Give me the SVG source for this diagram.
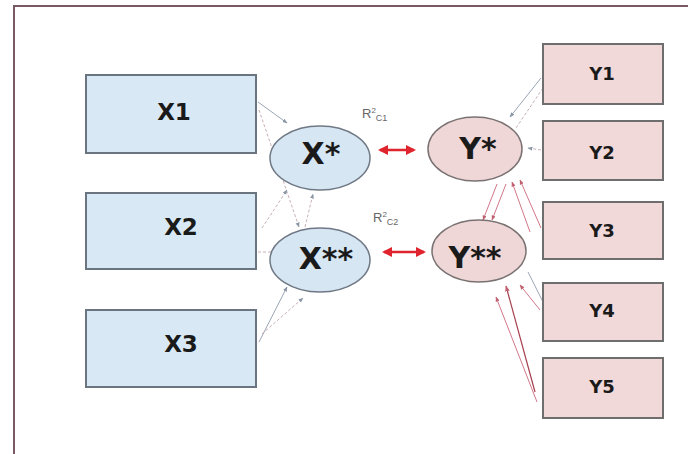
<svg xmlns="http://www.w3.org/2000/svg" width="688" height="454" viewBox="0 0 688 454">
<defs>
<marker id="ah" viewBox="0 0 10 10" refX="9" refY="5" markerWidth="5" markerHeight="5" orient="auto"><path d="M0,1 L10,5 L0,9 z" fill="#8a96a6"/></marker>
<marker id="ahr" viewBox="0 0 10 10" refX="9" refY="5" markerWidth="5" markerHeight="5" orient="auto"><path d="M0,1 L10,5 L0,9 z" fill="#c06070"/></marker>
<marker id="red" viewBox="0 0 10 10" refX="8" refY="5" markerWidth="4" markerHeight="4" orient="auto-start-reverse"><path d="M0,0 L10,5 L0,10 z" fill="#e0242e"/></marker>
<style>
.xb{fill:#d8e9f5;stroke:#6b7580;stroke-width:2}
.yb{fill:#f2d9d9;stroke:#6e6e6e;stroke-width:2}
.xe{fill:#d6e6f2;stroke:#6f7985;stroke-width:1.5}
.ye{fill:#efd7d7;stroke:#7a7272;stroke-width:1.5}
.t{font-family:"DejaVu Sans",Verdana,sans-serif;font-weight:bold;fill:#1a1a1a;text-anchor:middle}
.bl{font-size:23px}
.yl{font-size:18px}
.el{font-size:30px}
.r{font-family:"Liberation Sans",Arial,sans-serif;fill:#666;font-size:13px}
.g{stroke:#9aa6b6;stroke-width:1;fill:none}
.gd{stroke:#c8b0b8;stroke-width:1;fill:none;stroke-dasharray:3 2}
.rl{stroke:#d07888;stroke-width:1;fill:none}
.rd{stroke:#a84050;stroke-width:1.2;fill:none}
.dbl{stroke:#e0242e;stroke-width:2.5;fill:none}
</style>
</defs>
<rect width="688" height="454" fill="#ffffff"/>
<path d="M14,454 V6 H688" fill="none" stroke="#7a5a62" stroke-width="2"/>
<g id="connectors">
<path class="g" d="M258,102 L287,123" marker-end="url(#ah)"/>
<path class="gd" d="M259,110 L299,227" marker-end="url(#ah)"/>
<path class="gd" d="M262,228 L287,190" marker-end="url(#ah)"/>
<path class="gd" d="M305,227 L313,194" marker-end="url(#ah)"/>
<path class="gd" d="M258,252 L271,252"/>
<path class="g" d="M259,342 L287,287" marker-end="url(#ah)"/>
<path class="gd" d="M262,334 L303,298" marker-end="url(#ah)"/>
<path class="g" d="M541,78 L510,117" marker-end="url(#ah)"/>
<path class="gd" d="M543,88 L516,128"/>
<path class="gd" d="M541,150 L528,148" marker-end="url(#ah)"/>
<path class="rl" d="M497,184 L483,220" marker-end="url(#ahr)"/>
<path class="rl" d="M506,184 L492,220" marker-end="url(#ahr)"/>
<path class="rl" d="M530,232 L512,182" marker-end="url(#ahr)"/>
<path class="rl" d="M541,228 L520,180" marker-end="url(#ahr)"/>
<path class="rd" d="M535,392 L506,286" marker-end="url(#ahr)"/>
<path class="rl" d="M537,402 L496,297" marker-end="url(#ahr)"/>
<path class="rl" d="M540,310 L520,285" marker-end="url(#ahr)"/>
<path class="g" d="M528,272 L543,302"/>
<path class="dbl" d="M380,150 L414,150" marker-start="url(#red)" marker-end="url(#red)"/>
<path class="dbl" d="M384,252 L424,252" marker-start="url(#red)" marker-end="url(#red)"/>
</g>
<g id="X1"><rect class="xb" x="86" y="75" width="170" height="78"/><text class="t bl" x="174" y="120">X1</text></g>
<g id="X2"><rect class="xb" x="86" y="193" width="170" height="76"/><text class="t bl" x="181" y="235">X2</text></g>
<g id="X3"><rect class="xb" x="86" y="310" width="170" height="77"/><text class="t bl" x="181" y="352">X3</text></g>
<g id="Y1"><rect class="yb" x="543" y="44" width="120" height="60"/><text class="t yl" x="602" y="80">Y1</text></g>
<g id="Y2"><rect class="yb" x="543" y="121" width="120" height="59"/><text class="t yl" x="602" y="159">Y2</text></g>
<g id="Y3"><rect class="yb" x="543" y="202" width="120" height="57"/><text class="t yl" x="602" y="237">Y3</text></g>
<g id="Y4"><rect class="yb" x="543" y="283" width="120" height="58"/><text class="t yl" x="602" y="317">Y4</text></g>
<g id="Y5"><rect class="yb" x="543" y="358" width="120" height="60"/><text class="t yl" x="602" y="393">Y5</text></g>
<g id="Xs"><ellipse class="xe" cx="320" cy="158" rx="50" ry="32"/><text class="t el" x="321" y="164">X*</text></g>
<g id="Xss"><ellipse class="xe" cx="320" cy="260" rx="50" ry="32"/><text class="t el" x="326" y="269">X**</text></g>
<g id="Ys"><ellipse class="ye" cx="475" cy="149" rx="47" ry="32"/><text class="t el" x="478" y="159">Y*</text></g>
<g id="Yss"><ellipse class="ye" cx="479" cy="251" rx="47" ry="31"/><text class="t el" x="475" y="268">Y**</text></g>
<g id="labels">
<text class="r" x="362" y="118">R<tspan dy="-5" font-size="8">2</tspan><tspan dy="8" font-size="9">C1</tspan></text>
<text class="r" x="373" y="222">R<tspan dy="-5" font-size="8">2</tspan><tspan dy="8" font-size="9">C2</tspan></text>
</g>
</svg>
